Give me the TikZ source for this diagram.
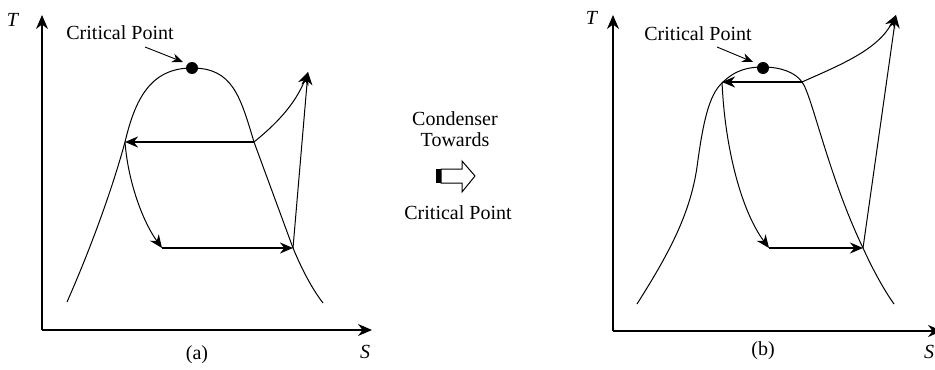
\documentclass[tikz,border=0pt]{standalone}
\usepackage{fontspec}
\setmainfont{Liberation Serif}
\usetikzlibrary{arrows.meta,positioning}
\tikzset{
  dome/.style={line width=0.5pt},
  axis/.style={line width=0.6pt, -{Stealth[length=7pt,width=6pt]}},
  proc/.style={line width=0.5pt, -{Stealth[length=6.5pt,width=5.5pt]}},
  heavy/.style={line width=1.1pt, -{Stealth[length=6.5pt,width=5.5pt]}},
  pointer/.style={line width=0.45pt, -{Stealth[length=5.5pt,width=4.5pt]}},
  lbl/.style={font=\fontsize{10}{12}\selectfont, inner sep=0pt},
  critdot/.style={circle, fill=black, inner sep=0pt, minimum size=6pt},
}

\begin{document}
\begin{tikzpicture}[x=0.5pt, y=-0.5pt]
  \useasboundingbox (0,0) rectangle (935,369);
  % ---------- (a): condenser far below the critical point ----------
  \coordinate (oa) at (42,330);
  \coordinate (ta) at (42,15);
  \coordinate (sa) at (372,330);
  \draw[axis] (oa) -- (ta);
  \draw[axis] (oa) -- (sa);
  \node[lbl] (Tlbla) at (13,20) {\textit{T}};
  \node[lbl] (Slbla) at (365,352) {\textit{S}};
  \node[lbl] (capa) at (197,355) {(a)};
  % saturation dome
  \draw[dome] (67,302) .. controls (90,250) and (112,190) .. (125,142)
    .. controls (135,100) and (150,68) .. (192,68)
    .. controls (232,68) and (240,95) .. (254,142)
    -- (293,248) .. controls (303,272) and (313,290) .. (323,303);
  \coordinate (a1) at (125,142);
  \coordinate (a2) at (254,142);
  \coordinate (a3) at (308,72);
  \coordinate (a4) at (293,248);
  \coordinate (a5) at (162,248);
  \draw[heavy] (a2) -- (a1);
  \draw[proc] (a2) .. controls (275,125) and (295,105) .. (a3);
  \draw[proc] (a4) -- (a3);
  \draw[proc] (a1) .. controls (128,182) and (143,222) .. (a5);
  \draw[heavy] (a5) -- (a4);
  % critical point
  \node[critdot] (cpa) at (192,68) {};
  \node[lbl] (cplbla) at (120,33) {Critical Point};
  \coordinate (cpsa) at (145,47);
  \coordinate (cpea) at (183,62);
  \draw[pointer] (cpsa) -- (cpea);

  % ---------- middle: shift of the condenser ----------
  \node[lbl] (cond) at (455,119) {Condenser};
  \node[lbl] (tow) at (455,140) {Towards};
  \node[lbl] (crit) at (458,213) {Critical Point};
  \draw[line width=0.5pt, fill=white] (441,169) -- (462,169) -- (462,161) -- (475,176)
    -- (462,192) -- (462,183) -- (441,183) -- cycle;
  \fill (436,169) rectangle (441,183);

  % ---------- (b): condenser close to the critical point ----------
  \coordinate (ob) at (613,331);
  \coordinate (tb) at (613,15);
  \coordinate (sb) at (942,331);
  \draw[axis] (ob) -- (tb);
  \draw[axis] (ob) -- (sb);
  \node[lbl] (Tlblb) at (592,18) {\textit{T}};
  \node[lbl] (Slblb) at (929,352) {\textit{S}};
  \node[lbl] (capb) at (763,351) {(b)};
  % saturation dome
  \draw[dome] (637,304) .. controls (668,255) and (690,215) .. (697,167)
    .. controls (703,122) and (709,95) .. (722,83)
    .. controls (735,70) and (748,67) .. (763,67)
    .. controls (780,67) and (795,72) .. (802,82)
    .. controls (812,95) and (828,175) .. (863,248)
    .. controls (873,270) and (884,290) .. (894,304);
  \coordinate (b1) at (722,82);
  \coordinate (b2) at (802,82);
  \coordinate (b3) at (896,15);
  \coordinate (b4) at (863,248);
  \coordinate (b5) at (769,248);
  \draw[heavy] (b2) -- (b1);
  \draw[proc] (b2) .. controls (840,65) and (878,50) .. (b3);
  \draw[proc] (b4) -- (b3);
  \draw[proc] (b1) .. controls (725,150) and (742,212) .. (b5);
  \draw[heavy] (b5) -- (b4);
  % critical point
  \node[critdot] (cpb) at (763,68) {};
  \node[lbl] (cplblb) at (698,34) {Critical Point};
  \coordinate (cpsb) at (717,47);
  \coordinate (cpeb) at (753,62);
  \draw[pointer] (cpsb) -- (cpeb);
\end{tikzpicture}
\end{document}
